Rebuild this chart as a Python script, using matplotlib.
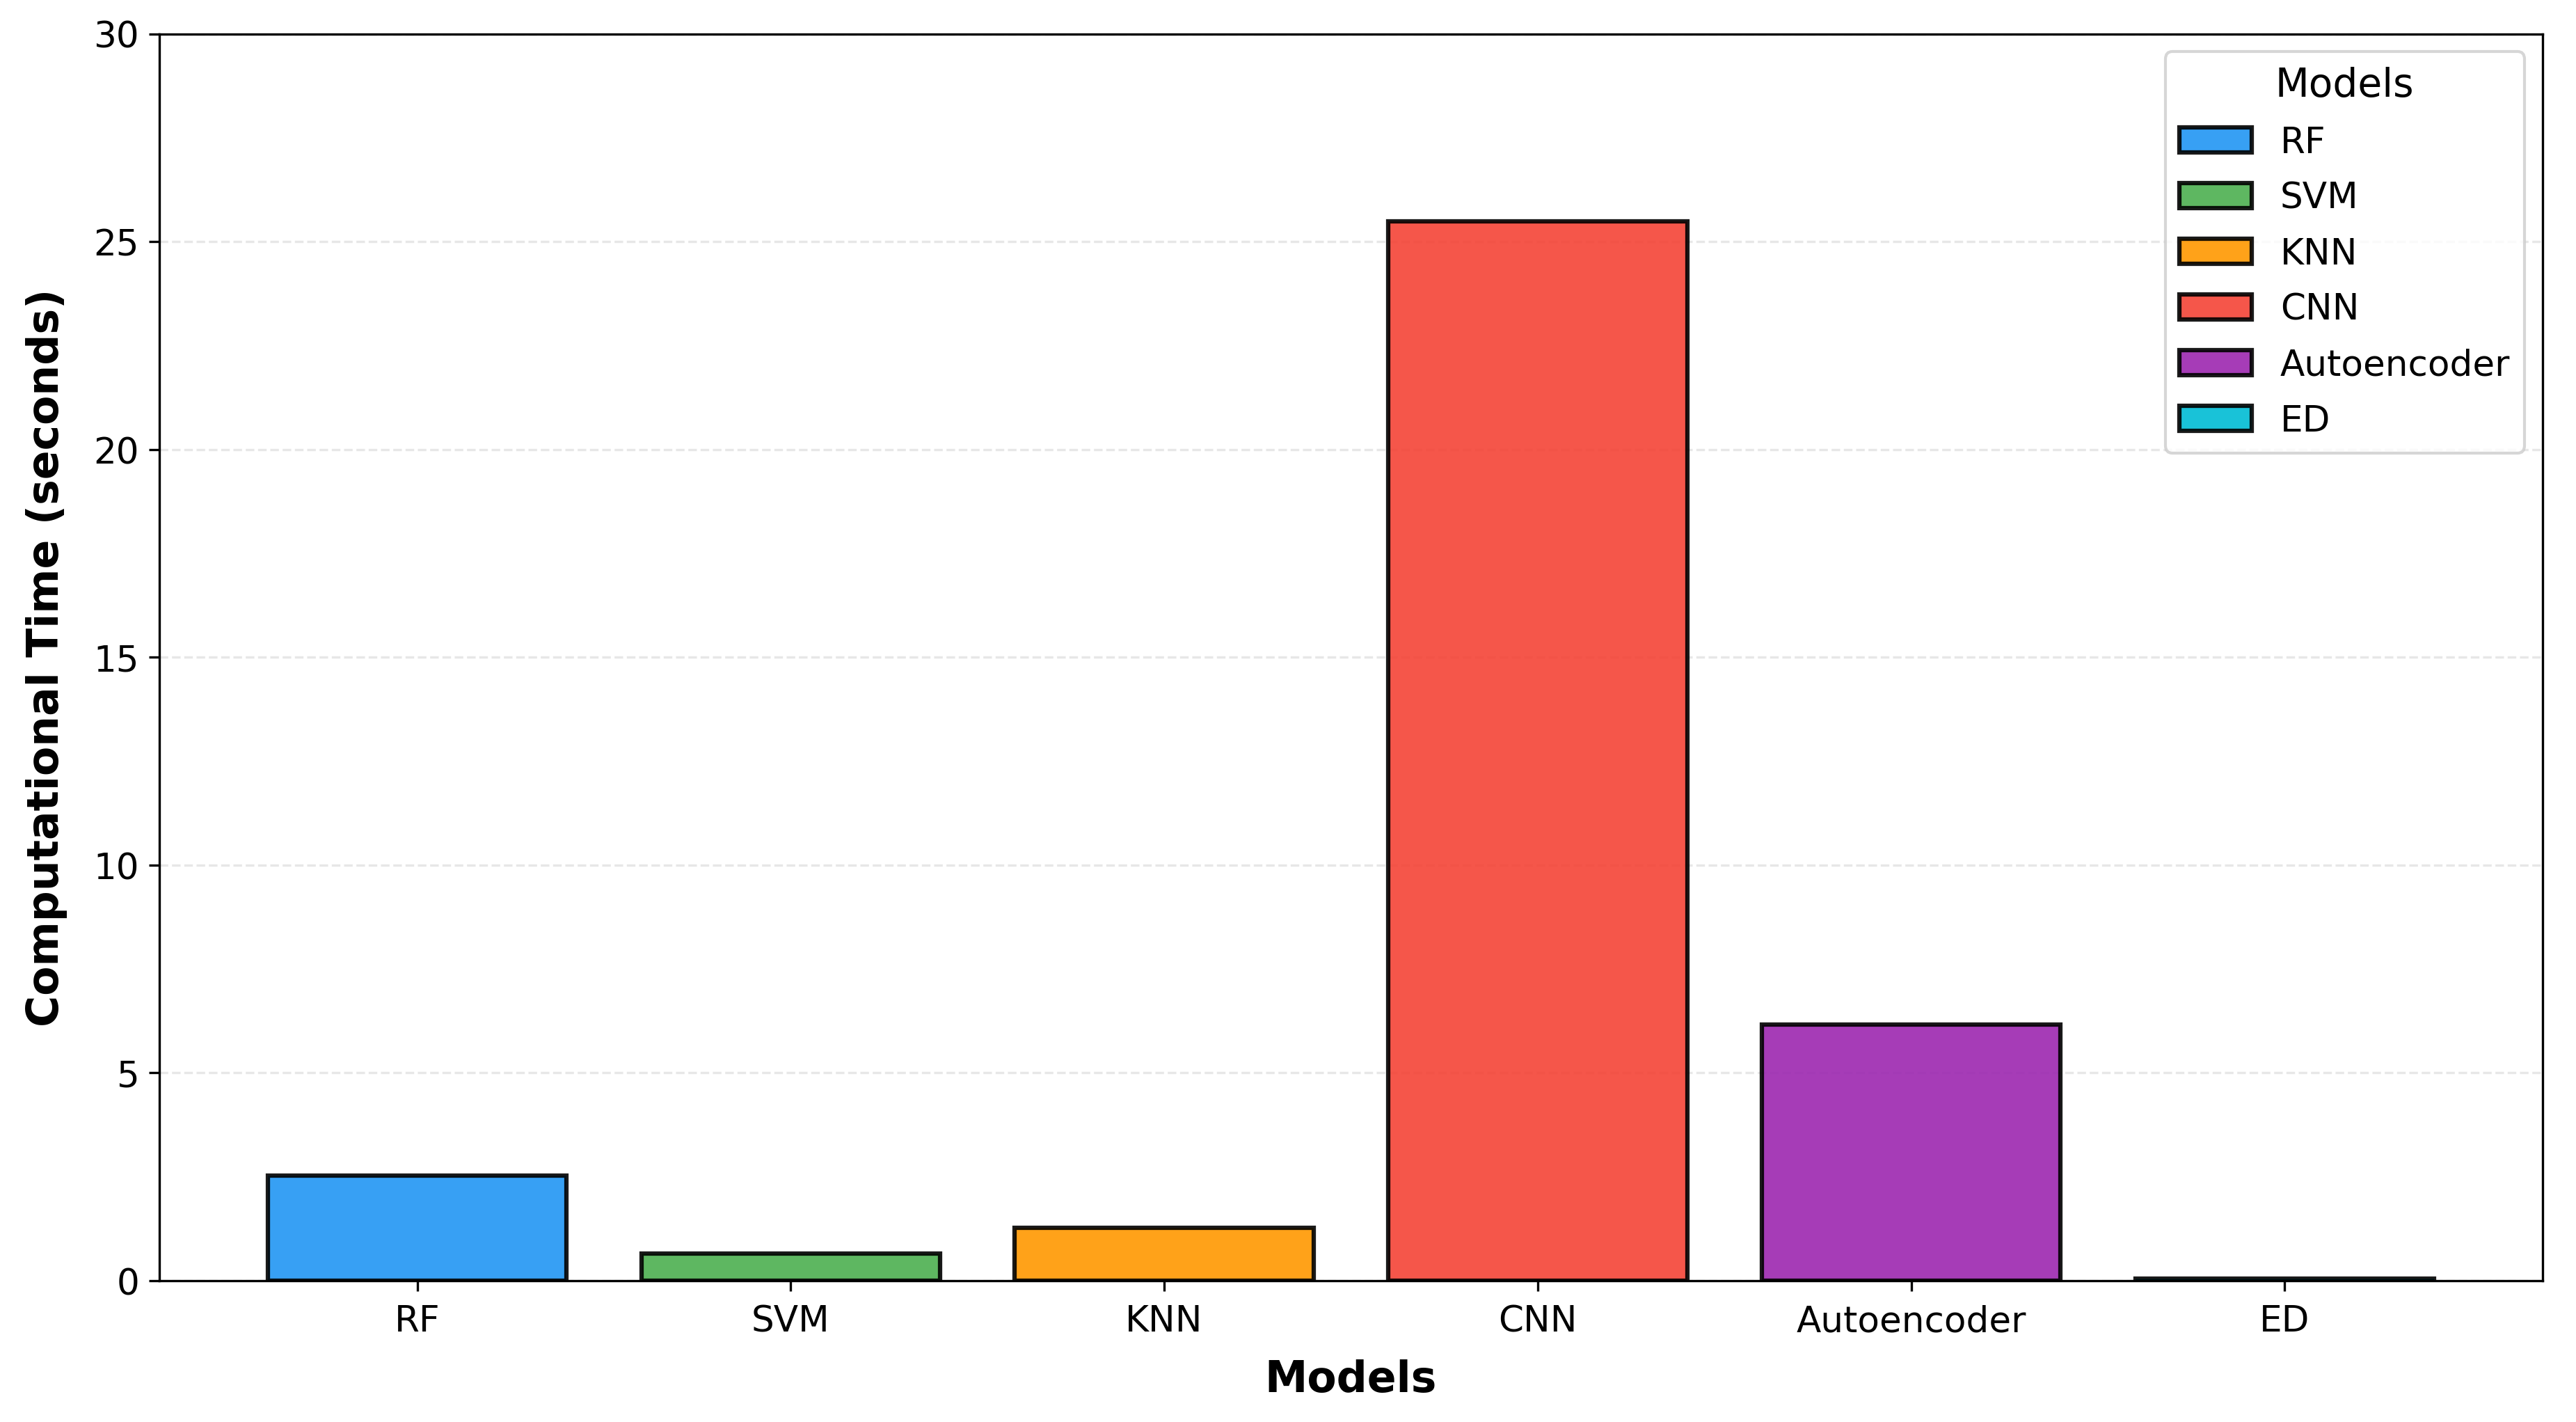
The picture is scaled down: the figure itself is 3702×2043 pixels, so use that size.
import matplotlib
matplotlib.use("Agg")
import matplotlib.pyplot as plt

models = ["RF", "SVM", "KNN", "CNN", "Autoencoder", "ED"]
times = [2.53, 0.65, 1.28, 25.48, 6.16, 0.05]
colors = ["#2196F3", "#4CAF50", "#FF9800", "#F44336", "#9C27B0", "#00BCD4"]

fig = plt.figure(figsize=(12.34, 6.813), dpi=300)
ax = fig.add_axes([0.0619, 0.0993, 0.9251, 0.8765])

bars = ax.bar(models, times, width=0.8, color=colors, alpha=0.9,
              edgecolor="black", linewidth=1.5)

ax.set_ylim(0, 30)
ax.set_yticks([0, 5, 10, 15, 20, 25, 30])
ax.grid(axis="y", linestyle="--", alpha=0.3)
ax.set_axisbelow(True)
ax.tick_params(labelsize=12.4)
ax.tick_params(axis="x", pad=4.5)
ax.set_xlabel("Models", fontsize=14.8, fontweight="bold", labelpad=7)
ax.set_ylabel("Computational Time (seconds)", fontsize=14.8, fontweight="bold", labelpad=9)

leg = ax.legend(handles=list(bars), labels=models, title="Models",
                loc="upper right", fontsize=12.4, title_fontsize=13.6,
                frameon=True, labelspacing=0.58)

fig.savefig("out.png", dpi=300)
